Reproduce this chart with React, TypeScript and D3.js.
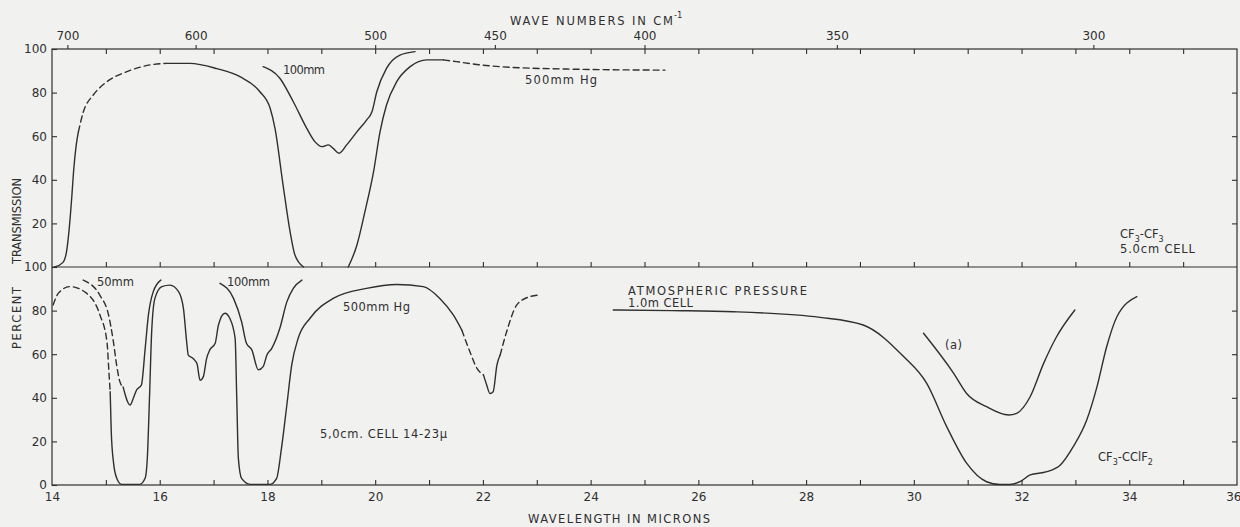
import React, { useEffect, useRef } from 'react';
import * as d3 from 'd3';

const width = 1240;
const height = 527;
const plot = { left: 52, right: 1237, top: 49, mid: 267, bottom: 485 };
const ink = '#2f2f2f';
const paper = '#f1f1f0';
const font = '"DejaVu Sans", Arial, sans-serif';

type Pt = [number, number];

// top panel (CF3-CF3), [microns, % transmission]
const top500LeftRise: Pt[] = [[14.05, 0], [14.2, 2], [14.27, 7], [14.32, 17.7], [14.37, 33], [14.4, 43.7], [14.45, 56], [14.49, 62]];
const top500LeftDash: Pt[] = [[14.49, 62], [14.58, 71], [14.77, 79], [15.02, 85], [15.39, 89.6], [15.82, 92.7], [16.13, 93.4]];
const top500LeftFall: Pt[] = [[16.13, 93.4], [16.56, 93.4], [17.06, 91], [17.49, 87.3], [17.86, 80.4], [18.05, 72.8], [18.14, 63.6], [18.29, 37.6], [18.42, 16.2], [18.51, 5.5], [18.67, 0]];
const top500RightRise: Pt[] = [[19.5, 0], [19.66, 10], [19.81, 25.4], [19.97, 43.7], [20.09, 62], [20.21, 74.3], [20.4, 85], [20.65, 91.9], [20.96, 95], [21.27, 95]];
const top500RightDash: Pt[] = [[21.27, 95], [21.51, 94.2], [21.95, 92.7], [22.32, 91.9], [23.56, 90.8], [25.38, 90.3]];
const top100mm: Pt[] = [[17.92, 91.9], [18.23, 86.6], [18.48, 75.8], [18.73, 63.6], [18.88, 57.5], [19.01, 55.2], [19.13, 56], [19.22, 54.4], [19.33, 52.2], [19.47, 56], [19.66, 62], [19.84, 67.4], [19.94, 71.2], [20.03, 80.4], [20.21, 91.1], [20.46, 97.2], [20.74, 98.8]];

// bottom panel (CF3-CClF2)
const bot500Dash1: Pt[] = [[14.02, 82.6], [14.12, 88], [14.33, 91], [14.64, 88], [14.89, 78], [15.02, 65.7], [15.06, 50.5], [15.08, 42.8]];
const bot500Main: Pt[] = [[15.08, 42.8], [15.1, 24.5], [15.14, 10.7], [15.2, 3.2], [15.29, 0.3], [15.63, 0.3], [15.73, 3.2], [15.77, 12.4], [15.81, 40], [15.85, 70], [15.91, 85.6], [16.04, 91], [16.19, 91.7], [16.35, 88.7], [16.44, 81], [16.5, 65.7], [16.53, 59.6], [16.62, 58], [16.69, 55.8], [16.75, 48], [16.81, 49.7], [16.87, 58], [16.93, 62], [17.03, 65], [17.09, 73.4], [17.21, 78.8], [17.3, 76.5], [17.4, 67.3], [17.43, 39.8], [17.46, 12.2], [17.52, 3], [17.68, 0.3], [18.05, 0.3], [18.17, 3], [18.26, 16.8], [18.36, 36.7], [18.45, 55], [18.57, 67.3], [18.79, 76.5], [19.22, 85.6], [19.84, 90.2], [20.4, 92], [20.89, 91], [21.2, 85.6], [21.45, 78], [21.61, 71]];
const bot500Dash2: Pt[] = [[21.61, 71], [21.76, 61], [21.89, 53.5], [22.01, 50.5]];
const bot500Dip: Pt[] = [[22.01, 50.5], [22.07, 45.9], [22.13, 42], [22.19, 42.8], [22.26, 55], [22.32, 59.6]];
const bot500Dash3: Pt[] = [[22.32, 59.6], [22.44, 70.3], [22.63, 82.6], [22.87, 86.4], [23.06, 87.2]];
const bot50Dash: Pt[] = [[14.58, 94], [14.89, 87], [15.05, 78], [15.14, 65.7], [15.2, 55], [15.26, 47.4], [15.32, 45]];
const bot50mm: Pt[] = [[15.32, 45], [15.45, 36.7], [15.51, 39.8], [15.57, 43.6], [15.66, 45.9], [15.73, 62.7], [15.79, 78], [15.88, 88.7], [16.02, 94]];
const bot100mm: Pt[] = [[17.12, 92.5], [17.37, 85.6], [17.52, 74.9], [17.61, 65], [17.71, 62], [17.83, 52.8], [17.92, 54.3], [17.99, 59.6], [18.08, 62.7], [18.23, 71.9], [18.36, 84], [18.48, 90.2], [18.64, 94]];
const botAtmos: Pt[] = [[24.42, 80.3], [25.5, 80], [26.65, 79.5], [28.26, 76.9], [29.06, 73.4], [29.81, 58.9], [30.24, 46.6], [30.61, 26.8], [30.98, 10], [31.35, 1.5], [31.6, 0.2], [31.78, 0.2], [31.97, 1.5], [32.16, 4.6], [32.47, 6.1], [32.72, 9.2], [32.96, 17.6], [33.21, 29.8], [33.4, 45], [33.58, 63.4], [33.77, 77.2], [34.14, 86.4]];
const botCurveA: Pt[] = [[30.18, 69.6], [30.74, 51.2], [30.98, 42], [31.35, 35.9], [31.76, 32.1], [31.91, 32.9], [32.16, 40.5], [32.41, 55.8], [32.65, 68], [32.99, 80.3]];

// axes
const micronTicks = [15, 16, 17, 18, 19, 20, 21, 22, 23, 24, 25, 26, 27, 28, 29, 30, 31, 32, 33, 34, 35];
const micronLabels = [14, 16, 18, 20, 22, 24, 26, 28, 30, 32, 34, 36];
const waveNumbers = [700, 600, 500, 450, 400, 350, 300];
const topPercent = [20, 40, 60, 80, 100];
const botPercent = [0, 20, 40, 60, 80, 100];
const innerPercent = [20, 40, 60, 80];

const x = d3.scaleLinear().domain([14, 36]).range([plot.left, plot.right]);
const yTop = d3.scaleLinear().domain([0, 100]).range([plot.mid, plot.top]);
const yBot = d3.scaleLinear().domain([0, 100]).range([plot.bottom, plot.mid]);

const curves: { pts: Pt[]; panel: 'top' | 'bot'; dashed?: boolean }[] = [
  { pts: top500LeftRise, panel: 'top' },
  { pts: top500LeftDash, panel: 'top', dashed: true },
  { pts: top500LeftFall, panel: 'top' },
  { pts: top500RightRise, panel: 'top' },
  { pts: top500RightDash, panel: 'top', dashed: true },
  { pts: top100mm, panel: 'top' },
  { pts: bot500Dash1, panel: 'bot', dashed: true },
  { pts: bot500Main, panel: 'bot' },
  { pts: bot500Dash2, panel: 'bot', dashed: true },
  { pts: bot500Dip, panel: 'bot' },
  { pts: bot500Dash3, panel: 'bot', dashed: true },
  { pts: bot50Dash, panel: 'bot', dashed: true },
  { pts: bot50mm, panel: 'bot' },
  { pts: bot100mm, panel: 'bot' },
  { pts: botAtmos, panel: 'bot' },
  { pts: botCurveA, panel: 'bot' },
];

function Label({ x, y, len, children }: { x: number; y: number; len?: number; children: React.ReactNode }) {
  return (
    <text x={x} y={y} textLength={len} lengthAdjust={len ? 'spacing' : undefined} fontSize={11.5} fill={ink}>
      {children}
    </text>
  );
}

export default function App() {
  const axesRef = useRef<SVGGElement>(null);

  useEffect(() => {
    const g = d3.select(axesRef.current);
    g.selectAll('*').remove();
    const style = (s: any) => {
      s.select('.domain').remove();
      s.attr('font-family', font).attr('font-size', 12).style('color', ink);
      s.selectAll('line').attr('stroke-width', 1.1);
    };
    // bottom micron axis
    g.append('g').attr('transform', `translate(0,${plot.bottom})`)
      .call(d3.axisBottom(x).tickValues(micronLabels).tickSize(0).tickPadding(7).tickFormat(d => String(d)))
      .call(style)
      // the last label sits on the frame edge, keep it inside the page
      .call((s: any) => s.selectAll('.tick text').filter((d: number) => d === 36).attr('text-anchor', 'end').attr('x', 4));
    g.append('g').attr('transform', `translate(0,${plot.bottom})`)
      .call(d3.axisBottom(x).tickValues(micronTicks).tickSize(-5).tickFormat(() => ''))
      .call(style);
    // middle line ticks
    g.append('g').attr('transform', `translate(0,${plot.mid})`)
      .call(d3.axisBottom(x).tickValues(micronTicks).tickSize(-5).tickFormat(() => ''))
      .call(style);
    // top micron ticks
    g.append('g').attr('transform', `translate(0,${plot.top})`)
      .call(d3.axisTop(x).tickValues(micronTicks).tickSize(-5).tickFormat(() => ''))
      .call(style);
    // top wave number axis
    g.append('g').attr('transform', `translate(0,${plot.top})`)
      .call(d3.axisTop(x).tickValues(waveNumbers.map(w => 10000 / w)).tickSize(4).tickPadding(5)
        .tickFormat(d => String(Math.round(10000 / +d))))
      .call(style);
    // left percent axes
    g.append('g').attr('transform', `translate(${plot.left},0)`)
      .call(d3.axisLeft(yTop).tickValues(topPercent).tickSize(-5).tickPadding(5).tickFormat(d => String(d)))
      .call(style);
    g.append('g').attr('transform', `translate(${plot.left},0)`)
      .call(d3.axisLeft(yBot).tickValues(botPercent).tickSize(-5).tickPadding(5).tickFormat(d => String(d)))
      .call(style);
    // right inward ticks
    g.append('g').attr('transform', `translate(${plot.right},0)`)
      .call(d3.axisRight(yTop).tickValues(innerPercent).tickSize(-5).tickFormat(() => ''))
      .call(style);
    g.append('g').attr('transform', `translate(${plot.right},0)`)
      .call(d3.axisRight(yBot).tickValues(innerPercent).tickSize(-5).tickFormat(() => ''))
      .call(style);
  }, []);

  const lineFor = (panel: 'top' | 'bot') =>
    d3.line<Pt>()
      .x(d => x(d[0]))
      .y(d => (panel === 'top' ? yTop(d[1]) : yBot(d[1])))
      .curve(d3.curveMonotoneX);

  return (
    <svg width={width} height={height} style={{ position: 'absolute', left: 0, top: 0, display: 'block' }} fontFamily={font}>
      <rect width={width} height={height} fill={paper} />
      <rect x={plot.left} y={plot.top} width={plot.right - plot.left} height={plot.bottom - plot.top}
        fill="none" stroke={ink} strokeWidth={1.2} />
      <line x1={plot.left} x2={plot.right} y1={plot.mid} y2={plot.mid} stroke={ink} strokeWidth={1.2} />
      <g ref={axesRef} />

      {curves.map((c, i) => (
        <path key={i} d={lineFor(c.panel)(c.pts) || ''} fill="none" stroke={ink} strokeWidth={1.4}
          strokeDasharray={c.dashed ? '6,4' : undefined} strokeLinecap="round" />
      ))}

      {/* axis titles */}
      <Label x={510} y={25} len={163}>WAVE NUMBERS IN CM</Label>
      <text x={674} y={18} fontSize={8.5} fill={ink}>-1</text>
      <Label x={528} y={523} len={182}>WAVELENGTH IN MICRONS</Label>
      <text transform="translate(21,221) rotate(-90)" textAnchor="middle" fontSize={11.5} fill={ink}
        textLength={86} lengthAdjust="spacing">TRANSMISSION</text>
      <text transform="translate(21,318) rotate(-90)" textAnchor="middle" fontSize={11.5} fill={ink}
        textLength={62} lengthAdjust="spacing">PERCENT</text>

      {/* top panel notes */}
      <Label x={283} y={74} len={42}>100mm</Label>
      <Label x={525} y={84} len={72}>500mm Hg</Label>
      <text x={1120} y={238} fontSize={11.5} fill={ink}>
        CF<tspan fontSize={8} dy={4}>3</tspan><tspan dy={-4}>-CF</tspan><tspan fontSize={8} dy={4}>3</tspan>
      </text>
      <Label x={1120} y={253} len={75}>5.0cm CELL</Label>

      {/* bottom panel notes */}
      <Label x={97} y={286} len={37}>50mm</Label>
      <Label x={227} y={286} len={43}>100mm</Label>
      <Label x={343} y={311} len={67}>500mm Hg</Label>
      <Label x={320} y={438} len={127}>5,0cm. CELL  14-23µ</Label>
      <Label x={628} y={295} len={179}>ATMOSPHERIC  PRESSURE</Label>
      <Label x={628} y={307} len={65}>1.0m CELL</Label>
      <Label x={945} y={349} len={17}>(a)</Label>
      <text x={1098} y={461} fontSize={11.5} fill={ink}>
        CF<tspan fontSize={8} dy={4}>3</tspan><tspan dy={-4}>-CClF</tspan><tspan fontSize={8} dy={4}>2</tspan>
      </text>
    </svg>
  );
}
